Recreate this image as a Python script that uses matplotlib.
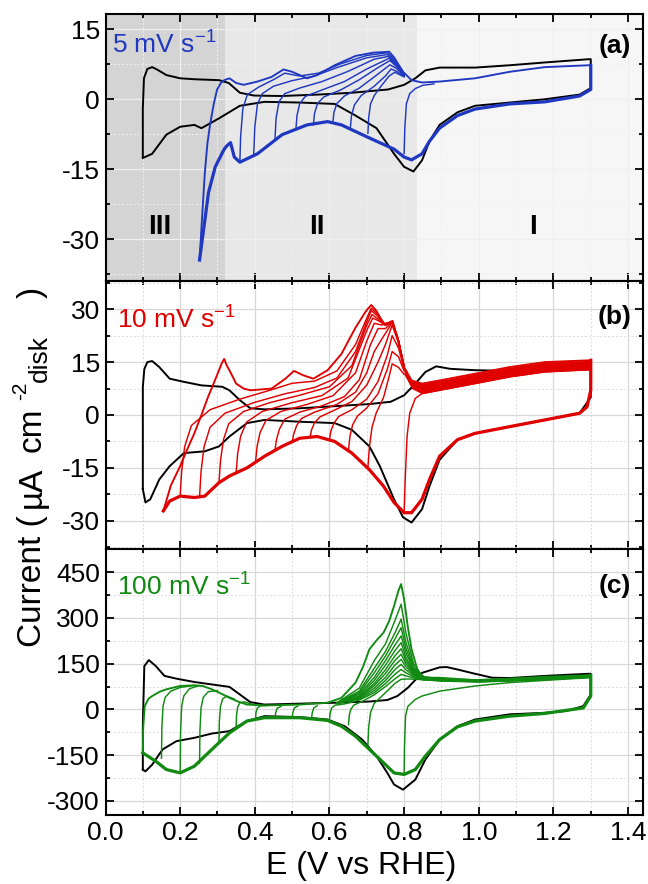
import matplotlib
matplotlib.use("Agg")
import matplotlib.pyplot as plt
from matplotlib.ticker import MultipleLocator

plt.rcParams['font.family'] = ['Liberation Sans', 'DejaVu Sans']
plt.rcParams['mathtext.fontset'] = 'custom'
plt.rcParams['mathtext.rm'] = 'Liberation Sans'
plt.rcParams['mathtext.it'] = 'Liberation Sans:italic'
plt.rcParams['mathtext.bf'] = 'Liberation Sans:bold'
plt.rcParams['axes.unicode_minus'] = False

# ---------------- Panel (a): 5 mV/s ----------------
a_black_E = [0.1, 0.1, 0.103, 0.112, 0.125, 0.14, 0.163, 0.2, 0.238, 0.304, 0.33, 0.36, 0.398, 0.47, 0.567, 0.66, 0.757, 0.8, 0.83, 0.857, 0.895, 0.99, 1.083, 1.177, 1.295, 1.3,
             1.3, 1.27, 1.177, 1.083, 0.99, 0.943, 0.895, 0.868, 0.848, 0.825, 0.8, 0.773, 0.726, 0.67, 0.614, 0.52, 0.426, 0.36, 0.304, 0.257, 0.238, 0.2, 0.163, 0.125, 0.1]
a_black_I = [-12.4, -2, 4.5, 6.5, 6.9, 6.3, 5.2, 4.5, 4.3, 4.1, 3.5, 1.4, 0.8, 0.7, 1.0, 1.4, 2.1, 3.1, 4.5, 6.2, 6.8, 6.8, 7.3, 7.9, 8.6, 8.6,
             2.4, 1.0, 0.0, -0.7, -1.4, -2.8, -5.5, -9.0, -13.1, -15.5, -14.5, -11.7, -6.2, -3.5, -1.0, -0.7, -0.55, -1.4, -4.1, -6.2, -5.5, -5.9, -7.6, -11.7, -12.6]

a_anod_E = [0.252, 0.259, 0.266, 0.273, 0.28, 0.29, 0.299, 0.309, 0.318, 0.332, 0.35, 0.37, 0.407, 0.445, 0.477, 0.5, 0.54, 0.567, 0.614, 0.67, 0.717, 0.76, 0.773, 0.797, 0.82, 0.848, 0.895, 0.99, 1.083, 1.177, 1.295, 1.3]
a_anod_I = [-34.5, -25, -15.9, -9.5, -5.5, -1.0, 2.1, 3.5, 4.1, 4.5, 3.5, 3.1, 3.8, 4.8, 6.4, 5.9, 4.5, 5.2, 7.3, 9.3, 10.0, 10.2, 9.0, 5.9, 4.1, 3.6, 3.8, 4.5, 5.9, 6.9, 7.3, 7.3]
a_cath_E = [1.3, 1.3, 1.27, 1.177, 1.083, 0.99, 0.943, 0.895, 0.868, 0.848, 0.82, 0.8, 0.773, 0.726, 0.688, 0.632, 0.595, 0.54, 0.473, 0.407, 0.36, 0.345, 0.335, 0.325, 0.318, 0.294, 0.276, 0.252]
a_cath_I = [7.3, 2.1, 0.7, -0.55, -1.0, -2.1, -3.5, -6.2, -9.0, -11.7, -13.0, -12.4, -10.7, -9.0, -7.6, -5.5, -4.8, -5.5, -7.6, -11.7, -13.5, -12.4, -9.3, -10.0, -10.7, -14.5, -20.0, -34.5]

a_cyc_E = [
    [0.36, 0.362, 0.368, 0.38, 0.41, 0.45, 0.48, 0.52, 0.57, 0.63, 0.70, 0.755, 0.775, 0.80],
    [0.397, 0.40, 0.407, 0.42, 0.45, 0.50, 0.56, 0.62, 0.70, 0.755, 0.775, 0.80],
    [0.454, 0.457, 0.465, 0.48, 0.52, 0.58, 0.65, 0.72, 0.758, 0.78, 0.80],
    [0.51, 0.513, 0.52, 0.535, 0.58, 0.64, 0.70, 0.76, 0.78, 0.80],
    [0.557, 0.56, 0.568, 0.585, 0.63, 0.68, 0.73, 0.762, 0.78, 0.80],
    [0.609, 0.612, 0.62, 0.64, 0.68, 0.72, 0.762, 0.78, 0.80],
    [0.656, 0.659, 0.667, 0.685, 0.72, 0.75, 0.765, 0.78, 0.80],
    [0.703, 0.705, 0.71, 0.72, 0.74, 0.76, 0.775, 0.80],
    [0.8, 0.802, 0.806, 0.815, 0.83, 0.85, 0.88],
]
a_cyc_I = [
    [-13.5, -8, -2, 1.0, 2.6, 4.2, 5.6, 5.0, 5.6, 7.6, 9.4, 10.0, 8.5, 5.6],
    [-12.1, -6, -1, 1.2, 2.8, 4.0, 5.0, 6.8, 8.9, 9.6, 8.2, 5.5],
    [-8.8, -4, -0.5, 1.2, 2.4, 3.8, 6.0, 8.6, 9.2, 7.6, 5.4],
    [-6.6, -3.5, -1.0, 0.6, 2.0, 3.8, 6.5, 8.8, 7.3, 5.3],
    [-5.5, -3, -0.9, 0.5, 2.0, 4.2, 6.8, 8.3, 7.0, 5.2],
    [-5.0, -2.8, -0.9, 0.7, 2.4, 4.8, 7.4, 6.6, 5.0],
    [-6.1, -3.5, -1.2, 0.8, 2.8, 5.0, 6.5, 6.0, 4.9],
    [-7.3, -4, -1, 0.8, 3.0, 5.0, 5.8, 4.8],
    [-11.7, -6, -1, 1.2, 2.3, 3.0, 3.3],
]

# ---------------- Panel (b): 10 mV/s ----------------
b_black_E = [0.1, 0.1, 0.104, 0.112, 0.125, 0.144, 0.172, 0.21, 0.257, 0.313, 0.332, 0.36, 0.388, 0.426, 0.52, 0.614, 0.707, 0.764, 0.8, 0.83, 0.857, 0.886, 0.923, 0.99, 1.083, 1.177, 1.29,
             1.3, 1.3, 1.27, 1.177, 1.083, 0.99, 0.943, 0.895, 0.868, 0.848, 0.82, 0.797, 0.773, 0.735, 0.707, 0.66, 0.614, 0.52, 0.426, 0.379, 0.332, 0.304, 0.266, 0.21, 0.172, 0.144, 0.12, 0.107, 0.1]
b_black_I = [-21, 8, 13, 15, 15.3, 13.6, 10.3, 9.4, 8.4, 8.0, 7.0, 4.2, 1.9, 1.6, 1.9, 2.5, 3.1, 3.75, 5.6, 8.9, 12.2, 13.8, 13.1, 12.7, 12.5, 13.0, 14.0,
             14.0, 5, 0.5, -1.4, -3.3, -5.2, -7, -12.7, -20.2, -26.7, -30.5, -29, -23.9, -14.5, -8.9, -4.2, -2.3, -1.9, -1.4, -2.3, -6.1, -8.9, -10.3, -10.8, -14.5, -18.3, -23.9, -24.8, -21]

b_anod_E = [0.155, 0.175, 0.2, 0.22, 0.238, 0.257, 0.275, 0.29, 0.304, 0.312, 0.318, 0.325, 0.332, 0.35, 0.37, 0.388, 0.445, 0.482, 0.505, 0.53, 0.557, 0.595, 0.632, 0.67, 0.698, 0.712, 0.726, 0.745, 0.76, 0.769, 0.782, 0.8, 0.82, 0.848, 0.895, 0.99, 1.083, 1.177, 1.295, 1.3]
b_anod_I = [-27.2, -20, -14.5, -9.5, -5.2, 0, 5.2, 9.0, 12.7, 14.8, 15.9, 14.0, 12.7, 8.9, 7.5, 7.0, 7.5, 10.3, 12.5, 11.25, 10.3, 12.7, 17.3, 24.8, 29.5, 31.2, 29.5, 25.8, 26.2, 26.7, 22, 13.6, 9.8, 8.9, 9.8, 11.7, 13.6, 15.0, 15.5, 15.5]
b_cath_E = [1.3, 1.3, 1.29, 1.27, 1.177, 1.083, 0.99, 0.943, 0.895, 0.868, 0.848, 0.82, 0.8, 0.773, 0.745, 0.707, 0.66, 0.614, 0.567, 0.52, 0.473, 0.426, 0.379, 0.332, 0.304, 0.266, 0.238, 0.2, 0.172, 0.155]
b_cath_I = [15.5, 7, 2.3, 0.5, -1.4, -3.3, -5.2, -7, -11.7, -18.3, -23.9, -27.7, -27.7, -24.8, -20.2, -15.5, -10.8, -7.5, -6.1, -6.6, -8.9, -11.7, -15, -17.3, -19.2, -23, -23.4, -23, -24.4, -27.2]

b_band_E = [0.80, 0.82, 0.848, 0.895, 0.99, 1.083, 1.177, 1.295, 1.3]
b_band_top = [13.6, 9.8, 8.9, 9.8, 11.7, 13.6, 15.0, 15.5, 15.5]
b_band_bot = [11.5, 7.5, 6.0, 7.0, 8.9, 10.8, 12.2, 12.8, 12.8]

b_cyc_E = [
    [0.2, 0.204, 0.212, 0.23, 0.28, 0.36, 0.44, 0.50, 0.56, 0.62, 0.67, 0.70, 0.712, 0.73, 0.75, 0.768, 0.785, 0.80],
    [0.252, 0.256, 0.264, 0.28, 0.32, 0.40, 0.48, 0.56, 0.62, 0.67, 0.70, 0.712, 0.73, 0.75, 0.768, 0.785, 0.80],
    [0.304, 0.308, 0.316, 0.33, 0.37, 0.44, 0.52, 0.60, 0.66, 0.70, 0.714, 0.73, 0.75, 0.768, 0.785, 0.80],
    [0.35, 0.354, 0.362, 0.378, 0.42, 0.50, 0.58, 0.65, 0.70, 0.716, 0.73, 0.75, 0.768, 0.785, 0.80],
    [0.402, 0.406, 0.414, 0.43, 0.47, 0.54, 0.61, 0.67, 0.70, 0.72, 0.74, 0.768, 0.785, 0.80],
    [0.454, 0.458, 0.466, 0.48, 0.52, 0.58, 0.64, 0.68, 0.71, 0.73, 0.75, 0.768, 0.785, 0.80],
    [0.5, 0.504, 0.512, 0.525, 0.56, 0.62, 0.67, 0.70, 0.72, 0.74, 0.755, 0.768, 0.785, 0.80],
    [0.548, 0.552, 0.56, 0.575, 0.61, 0.66, 0.70, 0.73, 0.75, 0.768, 0.785, 0.80],
    [0.6, 0.604, 0.612, 0.625, 0.66, 0.70, 0.73, 0.755, 0.768, 0.785, 0.80],
    [0.651, 0.655, 0.662, 0.675, 0.70, 0.73, 0.755, 0.768, 0.785, 0.80],
    [0.703, 0.707, 0.714, 0.725, 0.745, 0.76, 0.768, 0.785, 0.80],
    [0.8, 0.803, 0.808, 0.815, 0.83, 0.848, 0.895, 0.99, 1.083, 1.177, 1.295, 1.3],
]
b_cyc_I = [
    [-23, -16, -9, -3, 1.5, 4.5, 7.0, 9.0, 9.6, 12.5, 20, 27.5, 30.3, 28.5, 25.5, 26.5, 21, 13.6],
    [-23.2, -16, -9, -3.5, 0.5, 3.6, 6.0, 7.8, 10.5, 18, 26.5, 29.6, 28, 25.5, 26.5, 21, 13.6],
    [-19.2, -13, -7, -2.5, 1.0, 3.5, 5.6, 8.0, 14, 25.5, 28.5, 27.3, 25.5, 26.5, 21, 13.6],
    [-16.3, -11, -6, -2, 1.0, 3.5, 5.5, 10.5, 24, 27.5, 26.8, 25.5, 26.5, 21, 13.6],
    [-13.3, -9, -5, -1.5, 1.0, 3.0, 5.5, 12, 21, 26, 25.5, 26.5, 21, 13.6],
    [-10, -7, -4, -1.2, 0.8, 2.6, 5.2, 10, 20, 24.5, 24.5, 26.5, 21, 13.6],
    [-7.8, -5.5, -3, -1, 0.8, 3.0, 6.5, 12, 18, 21.5, 24, 26.2, 21, 13.6],
    [-6.3, -4.2, -2.2, -0.5, 1.2, 3.8, 8.5, 15, 20, 25.5, 20.5, 13.6],
    [-6.9, -4.5, -2.3, -0.4, 1.5, 4.5, 9.5, 17, 22.5, 19, 13],
    [-10, -6, -2.8, -0.3, 2.0, 6.0, 13, 18, 16.5, 12.5],
    [-15, -9, -3.5, 0.5, 5, 11, 14.5, 13.5, 11.5],
    [-27.7, -18, -6, 0.5, 4.7, 6.1, 7, 8.9, 10.8, 12.2, 12.8, 12.8],
]

# ---------------- Panel (c): 100 mV/s ----------------
c_black_E = [0.1, 0.1, 0.104, 0.116, 0.135, 0.158, 0.19, 0.238, 0.285, 0.332, 0.36, 0.388, 0.426, 0.52, 0.614, 0.707, 0.755, 0.782, 0.81, 0.848, 0.895, 0.914, 0.943, 0.99, 1.036, 1.083, 1.177, 1.295, 1.3,
             1.3, 1.28, 1.235, 1.177, 1.083, 0.99, 0.943, 0.895, 0.857, 0.83, 0.797, 0.773, 0.755, 0.726, 0.688, 0.641, 0.595, 0.52, 0.426, 0.379, 0.332, 0.285, 0.238, 0.19, 0.153, 0.125, 0.107, 0.1]
c_black_I = [-197, -50, 142, 162, 142, 110, 101, 90, 82, 74, 49, 24, 16, 19, 22, 26, 31, 44, 71, 120, 138, 139, 131, 117, 104, 103, 110, 117, 117,
             49, 11, -5, -11, -16, -33, -55, -99, -164, -230, -263, -246, -208, -153, -99, -55, -33, -25, -22, -38, -71, -79, -93, -104, -131, -181, -203, -197]

c_anod_E = [0.1, 0.101, 0.105, 0.115, 0.125, 0.145, 0.163, 0.2, 0.238, 0.26, 0.285, 0.31, 0.332, 0.355, 0.379, 0.426, 0.52, 0.595, 0.632, 0.67, 0.69, 0.707, 0.725, 0.745, 0.76, 0.773, 0.785, 0.792, 0.8, 0.81, 0.82, 0.838, 0.857, 0.895, 0.99, 1.083, 1.177, 1.295, 1.3]
c_anod_I = [-142, -60, 10, 35, 44, 58, 66, 77, 79, 77, 66, 52, 38, 26, 16, 13, 16, 22, 38, 88, 140, 197, 225, 252, 290, 339, 390, 411, 361, 270, 197, 120, 104, 104, 96, 101, 107, 112, 112]
c_cath_E = [1.3, 1.3, 1.28, 1.177, 1.083, 0.99, 0.943, 0.895, 0.857, 0.83, 0.8, 0.773, 0.745, 0.707, 0.67, 0.632, 0.595, 0.52, 0.426, 0.379, 0.332, 0.285, 0.238, 0.2, 0.163, 0.135, 0.107, 0.1]
c_cath_I = [112, 44, 5, -13, -22, -38, -57, -99, -153, -197, -213, -208, -175, -131, -88, -55, -36, -27, -27, -38, -77, -131, -186, -208, -197, -170, -148, -142]

# anodic rise of each cycle after its lower vertex
c_rise_E = [
    [0.15, 0.151, 0.154, 0.16, 0.175, 0.2, 0.238],
    [0.2, 0.201, 0.204, 0.21, 0.225, 0.25],
    [0.252, 0.253, 0.256, 0.262, 0.275, 0.3],
    [0.304, 0.305, 0.308, 0.314, 0.325, 0.345],
    [0.35, 0.351, 0.354, 0.36, 0.372, 0.39],
    [0.402, 0.403, 0.407, 0.415, 0.43],
    [0.454, 0.456, 0.46, 0.47],
    [0.5, 0.502, 0.506, 0.515],
    [0.552, 0.554, 0.558, 0.567],
    [0.6, 0.602, 0.606, 0.615, 0.64, 0.68, 0.72, 0.75, 0.775, 0.792, 0.805, 0.825, 0.85, 0.9, 1.0, 1.15, 1.295],
    [0.651, 0.653, 0.657, 0.665, 0.69, 0.72, 0.75, 0.775, 0.792, 0.805, 0.825, 0.85, 0.9, 1.0, 1.15, 1.295],
    [0.703, 0.705, 0.71, 0.72, 0.75, 0.775, 0.792, 0.81, 0.83, 0.86, 0.9, 1.0, 1.15, 1.295],
    [0.8, 0.801, 0.804, 0.81, 0.83, 0.848, 0.895, 0.99, 1.083, 1.2, 1.295, 1.3],
]
c_rise_I = [
    [-160, -60, 10, 40, 60, 72, 79],
    [-208, -80, 10, 45, 68, 78],
    [-176, -70, 5, 40, 58, 62],
    [-110, -40, 10, 35, 44, 34],
    [-62, -20, 8, 22, 25, 18],
    [-33, -10, 5, 12, 13],
    [-27, -10, 4, 10],
    [-27, -10, 5, 11],
    [-28, -10, 5, 12],
    [-33, -12, 5, 14, 18, 31, 55, 85, 115, 131, 120, 108, 98, 95, 91, 97, 106],
    [-50, -20, 0, 14, 28, 48, 75, 100, 115, 110, 104, 97, 94, 91, 97, 106],
    [-115, -60, -10, 20, 55, 85, 99, 100, 99, 97, 93, 90, 96, 105],
    [-213, -120, -20, 10, 33, 44, 60, 77, 88, 97, 104, 104],
]
# oxidation peak of the cycles that rejoin the common anodic branch
c_peak_E = [0.62, 0.68, 0.72, 0.75, 0.775, 0.792, 0.805, 0.825, 0.85, 0.9, 1.0, 1.15, 1.295]
c_peak_I = [
    [22, 70, 160, 215, 290, 345, 250, 150, 108, 100, 97, 102, 110],
    [22, 60, 135, 190, 250, 296, 220, 140, 106, 99, 96, 101, 109],
    [21, 55, 120, 175, 230, 268, 200, 135, 105, 98, 95, 100, 109],
    [21, 50, 105, 160, 210, 241, 185, 130, 104, 98, 94, 100, 108],
    [20, 45, 95, 145, 192, 219, 170, 125, 103, 97, 94, 99, 108],
    [20, 42, 85, 130, 175, 199, 160, 122, 102, 97, 93, 99, 107],
    [20, 40, 78, 118, 160, 181, 150, 118, 101, 96, 93, 98, 107],
    [20, 37, 70, 105, 145, 164, 140, 115, 100, 96, 92, 98, 107],
    [20, 34, 62, 95, 130, 148, 130, 112, 99, 95, 92, 98, 106],
]

BLUE = '#2038c0'
RED = '#e00000'
GREEN = '#108a10'

W, H = 648, 884
fig = plt.figure(figsize=(W / 100, H / 100), dpi=100)
left, right = 105.5 / W, 643 / W


def make_ax(top_px, bot_px):
    return fig.add_axes([left, 1 - bot_px / H, right - left, (bot_px - top_px) / H])


axa = make_ax(14, 281)
axb = make_ax(281, 549)
axc = make_ax(549, 815)

TFS = 19


def style(ax, ymin_, ylim, ticks):
    ax.set_xlim(0, 1.44)
    ax.set_ylim(*ylim)
    ax.xaxis.set_major_locator(MultipleLocator(0.2))
    ax.xaxis.set_minor_locator(MultipleLocator(0.1))
    ax.set_yticks(ticks)
    ax.yaxis.set_minor_locator(MultipleLocator(ymin_))
    ax.grid(True, which='major', color='#d8d8d8', lw=0.9, zorder=0)
    ax.grid(True, which='minor', color='#dcdcdc', lw=0.7, ls=(0, (2, 2)), zorder=0)
    ax.set_axisbelow(True)
    ax.tick_params(which='both', direction='in', top=True, right=True, labelsize=TFS, width=1.3)
    ax.tick_params(which='major', length=6, pad=4)
    ax.tick_params(which='minor', length=3)
    for s in ax.spines.values():
        s.set_linewidth(1.5)


style(axa, 7.5, (-39, 18.3), [-30, -15, 0, 15])
style(axb, 7.5, (-38, 38), [-30, -15, 0, 15, 30])
style(axc, 75, (-346, 526), [-300, -150, 0, 150, 300, 450])
axa.tick_params(labelbottom=False)
axb.tick_params(labelbottom=False)

# shaded potential regions in (a)
axa.axvspan(0, 0.32, color='#d4d4d4', zorder=0.5, lw=0)
axa.axvspan(0.32, 0.835, color='#e8e8e8', zorder=0.5, lw=0)
axa.axvspan(0.835, 1.44, color='#f6f6f6', zorder=0.5, lw=0)
axa.grid(True, which='major', color='#efefef', lw=0.9, zorder=0.6)
axa.grid(True, which='minor', color='#f0f0f0', lw=0.7, ls=(0, (2, 2)), zorder=0.6)

LWC = 1.05
LWK = 1.4

# (a)
axa.plot(a_black_E, a_black_I, color='black', lw=LWK, zorder=3)
for E, I in zip(a_cyc_E, a_cyc_I):
    axa.plot(E, I, color=BLUE, lw=LWC, zorder=4)
axa.plot(a_anod_E, a_anod_I, color=BLUE, lw=LWC * 1.3, zorder=4)
axa.plot(a_cath_E, a_cath_I, color=BLUE, lw=LWC * 2.2, zorder=4)

# (b)
axb.plot(b_black_E, b_black_I, color='black', lw=LWK, zorder=3)
for E, I in zip(b_cyc_E, b_cyc_I):
    axb.plot(E, I, color=RED, lw=LWC, zorder=4)
axb.fill_between(b_band_E, b_band_bot, b_band_top, color=RED, lw=0, zorder=4)
axb.plot(b_anod_E, b_anod_I, color=RED, lw=LWC * 1.3, zorder=4)
axb.plot(b_cath_E, b_cath_I, color=RED, lw=LWC * 2.2, zorder=4)

# (c)
axc.plot(c_black_E, c_black_I, color='black', lw=LWK, zorder=3)
for E, I in zip(c_rise_E, c_rise_I):
    axc.plot(E, I, color=GREEN, lw=LWC, zorder=4)
for I in c_peak_I:
    axc.plot(c_peak_E, I, color=GREEN, lw=LWC, zorder=4)
axc.plot(c_anod_E, c_anod_I, color=GREEN, lw=LWC * 1.3, zorder=4)
axc.plot(c_cath_E, c_cath_I, color=GREEN, lw=LWC * 2.2, zorder=4)

# annotations
axa.text(0.013, 0.885, r'5 mV s$^{-1}$', transform=axa.transAxes, color=BLUE, fontsize=TFS, va='center', ha='left')
axb.text(0.022, 0.855, r'10 mV s$^{-1}$', transform=axb.transAxes, color=RED, fontsize=TFS, va='center', ha='left')
axc.text(0.022, 0.858, r'100 mV s$^{-1}$', transform=axc.transAxes, color=GREEN, fontsize=TFS, va='center', ha='left')
for ax, lab, yy in [(axa, '(a)', 0.88), (axb, '(b)', 0.866), (axc, '(c)', 0.862)]:
    ax.text(0.978, yy, lab, transform=ax.transAxes, fontsize=TFS, fontweight='bold', va='center', ha='right')
for xx, lab in [(0.145, 'III'), (0.565, 'II'), (1.145, 'I')]:
    axa.text(xx, -27.5, lab, fontsize=20, fontweight='bold', ha='center', va='center', zorder=5)

fig.text(361 / W, 1 - 866 / H, 'E (V vs RHE)', fontsize=23, ha='center', va='center')

# y label assembled from pieces (large sub/superscript like the original);
# each piece: (text, baseline x px, start y px from top, fontsize)
ylabel_parts = [('Current (', 41, 647, 24), ('µA', 41, 508, 24), ('cm', 41, 452, 24),
                ('-2', 26, 400, 15), ('disk', 47, 382, 19), (')', 41, 298, 24)]
for txt, xb, ys, fs in ylabel_parts:
    fig.text(xb / W, 1 - ys / H, txt, fontsize=fs, rotation=90,
             rotation_mode='anchor', ha='left', va='baseline')

fig.savefig('out.png', dpi=100)
